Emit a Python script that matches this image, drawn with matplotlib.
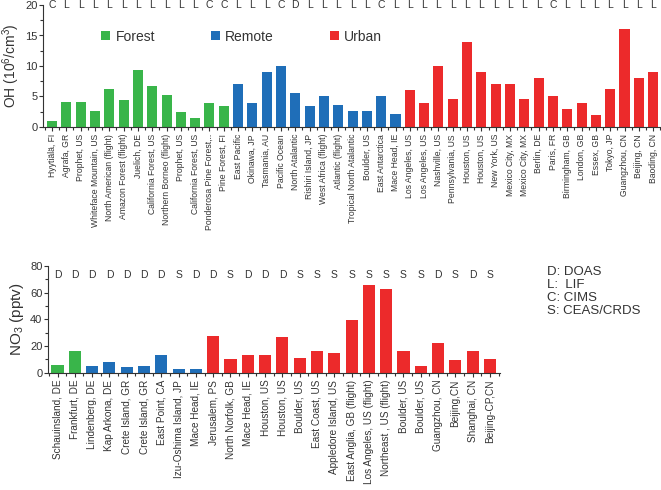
import matplotlib
matplotlib.use("Agg")
import matplotlib.pyplot as plt
from matplotlib.patches import Patch
from matplotlib.ticker import MultipleLocator

plt.rcParams['font.family'] = ['Liberation Sans', 'DejaVu Sans']
plt.rcParams['mathtext.fontset'] = 'custom'
plt.rcParams['mathtext.rm'] = 'Liberation Sans'
plt.rcParams['mathtext.it'] = 'Liberation Sans:italic'

# ---------------- data: OH ----------------
oh_forest_labels = ["Hyytiälä, FI", "Agrafa, GR", "Prophet, US", "Whiteface Mountain, US",
                    "North American (flight)", "Amazon Forest (flight)", "Juelich, DE",
                    "California Forest, US", "Northern Borneo (flight)", "Prophet, US",
                    "California Forest, US", "Ponderosa Pine Forest,..", "Pine Forest, FI"]
oh_forest_values = [1.0, 4.1, 4.1, 2.6, 6.3, 4.4, 9.3, 6.8, 5.3, 2.5, 1.5, 4.0, 3.4]

oh_remote_labels = ["East Pacific", "Okinawa, JP", "Tasmania, AU", "Pacific Ocean",
                    "North Atalantic", "Rishiri Island, JP", "West Africa (flight)",
                    "Atlantic (flight)", "Tropical North Atalantic", "Boulder, US",
                    "East Antarctica", "Mace Head, IE"]
oh_remote_values = [7.0, 4.0, 9.0, 10.0, 5.5, 3.5, 5.0, 3.6, 2.6, 2.7, 5.0, 2.2]

oh_urban_labels = ["Los Angeles, US", "Los Angeles, US", "Nashville, US", "Pennsylvania, US",
                   "Houston, US", "Houston, US", "New York, US", "Mexico City, MX",
                   "Mexico City, MX", "Berlin, DE", "Paris, FR", "Birmingham, GB",
                   "London, GB", "Essex, GB", "Tokyo, JP", "Guangzhou, CN", "Beijing, CN",
                   "Baoding, CN"]
oh_urban_values = [6.0, 4.0, 10.0, 4.6, 14.0, 9.0, 7.0, 7.0, 4.6, 8.0, 5.0, 3.0,
                   4.0, 2.0, 6.3, 16.1, 8.0, 9.0]

oh_methods = list("CLLLLLLLLLLCCLLLCDLLLLLCLLLLLLLLLLLCLLLLLLL")

# ---------------- data: NO3 ----------------
no3_forest_labels = ["Schauinsland, DE", "Frankfurt, DE"]
no3_forest_values = [6, 16]
no3_remote_labels = ["Lindenberg, DE", "Kap Arkona, DE", "Crete Island, GR", "Crete Island, GR",
                     "East Point, CA", "Izu-Oshima Island, JP", "Mace Head, IE"]
no3_remote_values = [5, 8, 4, 5, 13, 3, 3]
no3_urban_labels = ["Jerusalem, PS", "North Norfolk, GB", "Mace Head, IE", "Houston, US",
                    "Houston, US", "Boulder, US", "East Coast, US", "Appledore Island, US",
                    "East Anglia, GB (flight)", "Los Angeles, US (flight)",
                    "Northeast , US (flight)", "Boulder, US", "Boulder, US", "Guangzhou, CN",
                    "Beijing,CN", "Shanghai, CN", "Beijing-CP,CN"]
no3_urban_values = [27.5, 10, 13, 13, 26.5, 11, 16, 15, 39.5, 66, 62.5, 16, 5, 22,
                    9.5, 16, 10]
no3_methods = list("DDDDDDDSDDSDDDSSSSSSSSDSDS")

method_legend = ["D: DOAS", "L:  LIF", "C: CIMS", "S: CEAS/CRDS"]

c_forest = "#39B54A"
c_remote = "#1F6EB8"
c_urban = "#EC2A2B"

fig = plt.figure(figsize=(6.61, 4.90), dpi=100)

def draw(ax, groups, methods, ymax, ymajor, yminor, label_fs, method_y):
    labels, values, colors = [], [], []
    for labs, vals, col in groups:
        labels += labs
        values += vals
        colors += [col] * len(vals)
    x = list(range(len(values)))
    ax.bar(x, values, width=0.7, color=colors, edgecolor='none')
    ax.set_ylim(0, ymax)
    ax.yaxis.set_major_locator(MultipleLocator(ymajor))
    ax.yaxis.set_minor_locator(MultipleLocator(yminor))
    ax.set_xticks(x)
    ax.set_xticklabels(labels, rotation=90, fontsize=label_fs, color='#333333')
    ax.set_xticks([i + 0.5 for i in x[:-1]] + [-0.5, len(x) - 0.5], minor=True)
    for s in ['top', 'right']:
        ax.spines[s].set_visible(False)
    for s in ['left', 'bottom']:
        ax.spines[s].set_linewidth(0.8)
        ax.spines[s].set_color('#333333')
    ax.tick_params(axis='both', which='major', length=3, width=0.8, color='#333333')
    ax.tick_params(axis='both', which='minor', length=2, width=0.8, color='#333333')
    ax.tick_params(axis='x', pad=2)
    ax.tick_params(axis='y', labelsize=8, pad=1, labelcolor='#333333')
    for i, m in zip(x, methods):
        ax.text(i, method_y, m, ha='center', va='center', fontsize=7.5, color='#333333')
    return len(x)

# ---- top OH ----
ax1 = fig.add_axes([43 / 661, 1 - 127 / 490, 1 - 43 / 661, 122 / 490])
n1 = draw(ax1, [(oh_forest_labels, oh_forest_values, c_forest),
                (oh_remote_labels, oh_remote_values, c_remote),
                (oh_urban_labels, oh_urban_values, c_urban)],
          oh_methods, 20, 5, 2.5, 6.2, 20.0)
ax1.set_xlim(-0.63, n1 - 1 + 0.55)
ax1.set_ylabel("OH (10$^6$/cm$^3$)", fontsize=10, color='#333333', va='center')
ax1.yaxis.set_label_coords(-0.052, 0.5)
handles = [Patch(facecolor=c_forest, label="Forest"),
           Patch(facecolor=c_remote, label="Remote"),
           Patch(facecolor=c_urban, label="Urban")]
ax1.legend(handles=handles, ncol=3, loc='center left', bbox_to_anchor=(0.094, 0.74),
           frameon=False, fontsize=10, handlelength=0.65, handleheight=0.65,
           handletextpad=0.4, columnspacing=4.0, borderpad=0, borderaxespad=0,
           labelcolor='#333333')

# ---- bottom NO3 ----
ax2 = fig.add_axes([48 / 661, 1 - 372.7 / 490, (500 - 48) / 661, (372.7 - 266) / 490])
n2 = draw(ax2, [(no3_forest_labels, no3_forest_values, c_forest),
                (no3_remote_labels, no3_remote_values, c_remote),
                (no3_urban_labels, no3_urban_values, c_urban)],
          no3_methods, 80, 20, 10, 7.2, 73.0)
ax2.set_xlim(-0.55, n2 - 1 + 0.58)
ax2.set_ylabel("NO$_3$ (pptv)", fontsize=11, color='#333333', va='center')
ax2.yaxis.set_label_coords(-0.068, 0.5)

for k, t in enumerate(method_legend):
    fig.text(547 / 661, 1 - (272 + 13 * k) / 490, t, fontsize=9.5, va='center',
             ha='left', color='#333333')

fig.savefig("out.png", dpi=100)
